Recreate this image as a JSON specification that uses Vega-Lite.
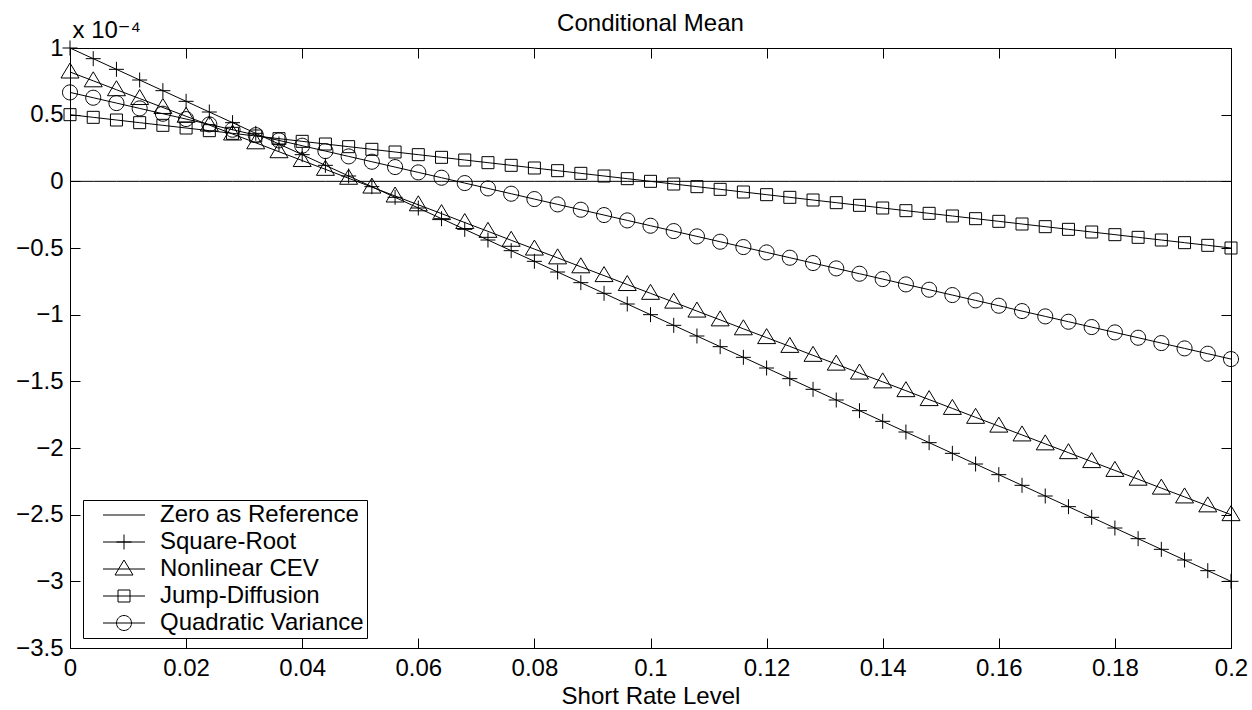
{
  "$schema": "https://vega.github.io/schema/vega-lite/v6.json",
  "width": 1161,
  "height": 600,
  "autosize": {"type": "none"},
  "padding": {"left": 70, "top": 48, "right": 21, "bottom": 62},
  "background": "white",
  "title": {"text": "Conditional Mean", "anchor": "middle", "frame": "group", "fontSize": 24, "fontWeight": "normal", "font": "Liberation Sans", "color": "black", "offset": -18},
  "config": {
    "view": {"stroke": "black", "strokeWidth": 1},
    "axis": {"grid": false, "domain": false, "tickColor": "black", "tickWidth": 1, "tickSize": -10, "labelFont": "Liberation Sans", "labelFontSize": 24, "labelColor": "black", "titleFont": "Liberation Sans", "titleFontSize": 24, "titleFontWeight": "normal", "titleColor": "black"}
  },
  "data": {"values": [
    {"x": 0, "Zero as Reference": 0, "Square-Root": 1, "Nonlinear CEV": 0.82, "Jump-Diffusion": 0.5, "Quadratic Variance": 0.667},
    {"x": 0.004, "Zero as Reference": 0, "Square-Root": 0.92, "Nonlinear CEV": 0.754, "Jump-Diffusion": 0.48, "Quadratic Variance": 0.627},
    {"x": 0.008, "Zero as Reference": 0, "Square-Root": 0.84, "Nonlinear CEV": 0.687, "Jump-Diffusion": 0.46, "Quadratic Variance": 0.587},
    {"x": 0.012, "Zero as Reference": 0, "Square-Root": 0.76, "Nonlinear CEV": 0.621, "Jump-Diffusion": 0.44, "Quadratic Variance": 0.547},
    {"x": 0.016, "Zero as Reference": 0, "Square-Root": 0.68, "Nonlinear CEV": 0.554, "Jump-Diffusion": 0.42, "Quadratic Variance": 0.507},
    {"x": 0.02, "Zero as Reference": 0, "Square-Root": 0.6, "Nonlinear CEV": 0.488, "Jump-Diffusion": 0.4, "Quadratic Variance": 0.467},
    {"x": 0.024, "Zero as Reference": 0, "Square-Root": 0.52, "Nonlinear CEV": 0.422, "Jump-Diffusion": 0.38, "Quadratic Variance": 0.427},
    {"x": 0.028, "Zero as Reference": 0, "Square-Root": 0.44, "Nonlinear CEV": 0.355, "Jump-Diffusion": 0.36, "Quadratic Variance": 0.387},
    {"x": 0.032, "Zero as Reference": 0, "Square-Root": 0.36, "Nonlinear CEV": 0.289, "Jump-Diffusion": 0.34, "Quadratic Variance": 0.347},
    {"x": 0.036, "Zero as Reference": 0, "Square-Root": 0.28, "Nonlinear CEV": 0.222, "Jump-Diffusion": 0.32, "Quadratic Variance": 0.307},
    {"x": 0.04, "Zero as Reference": 0, "Square-Root": 0.2, "Nonlinear CEV": 0.156, "Jump-Diffusion": 0.3, "Quadratic Variance": 0.267},
    {"x": 0.044, "Zero as Reference": 0, "Square-Root": 0.12, "Nonlinear CEV": 0.09, "Jump-Diffusion": 0.28, "Quadratic Variance": 0.227},
    {"x": 0.048, "Zero as Reference": 0, "Square-Root": 0.04, "Nonlinear CEV": 0.023, "Jump-Diffusion": 0.26, "Quadratic Variance": 0.187},
    {"x": 0.052, "Zero as Reference": 0, "Square-Root": -0.04, "Nonlinear CEV": -0.043, "Jump-Diffusion": 0.24, "Quadratic Variance": 0.147},
    {"x": 0.056, "Zero as Reference": 0, "Square-Root": -0.12, "Nonlinear CEV": -0.11, "Jump-Diffusion": 0.22, "Quadratic Variance": 0.107},
    {"x": 0.06, "Zero as Reference": 0, "Square-Root": -0.2, "Nonlinear CEV": -0.176, "Jump-Diffusion": 0.2, "Quadratic Variance": 0.067},
    {"x": 0.064, "Zero as Reference": 0, "Square-Root": -0.28, "Nonlinear CEV": -0.242, "Jump-Diffusion": 0.18, "Quadratic Variance": 0.027},
    {"x": 0.068, "Zero as Reference": 0, "Square-Root": -0.36, "Nonlinear CEV": -0.309, "Jump-Diffusion": 0.16, "Quadratic Variance": -0.013},
    {"x": 0.072, "Zero as Reference": 0, "Square-Root": -0.44, "Nonlinear CEV": -0.375, "Jump-Diffusion": 0.14, "Quadratic Variance": -0.053},
    {"x": 0.076, "Zero as Reference": 0, "Square-Root": -0.52, "Nonlinear CEV": -0.442, "Jump-Diffusion": 0.12, "Quadratic Variance": -0.093},
    {"x": 0.08, "Zero as Reference": 0, "Square-Root": -0.6, "Nonlinear CEV": -0.508, "Jump-Diffusion": 0.1, "Quadratic Variance": -0.133},
    {"x": 0.084, "Zero as Reference": 0, "Square-Root": -0.68, "Nonlinear CEV": -0.574, "Jump-Diffusion": 0.08, "Quadratic Variance": -0.173},
    {"x": 0.088, "Zero as Reference": 0, "Square-Root": -0.76, "Nonlinear CEV": -0.641, "Jump-Diffusion": 0.06, "Quadratic Variance": -0.213},
    {"x": 0.092, "Zero as Reference": 0, "Square-Root": -0.84, "Nonlinear CEV": -0.707, "Jump-Diffusion": 0.04, "Quadratic Variance": -0.253},
    {"x": 0.096, "Zero as Reference": 0, "Square-Root": -0.92, "Nonlinear CEV": -0.774, "Jump-Diffusion": 0.02, "Quadratic Variance": -0.293},
    {"x": 0.1, "Zero as Reference": 0, "Square-Root": -1, "Nonlinear CEV": -0.84, "Jump-Diffusion": 0, "Quadratic Variance": -0.333},
    {"x": 0.104, "Zero as Reference": 0, "Square-Root": -1.08, "Nonlinear CEV": -0.906, "Jump-Diffusion": -0.02, "Quadratic Variance": -0.373},
    {"x": 0.108, "Zero as Reference": 0, "Square-Root": -1.16, "Nonlinear CEV": -0.973, "Jump-Diffusion": -0.04, "Quadratic Variance": -0.413},
    {"x": 0.112, "Zero as Reference": 0, "Square-Root": -1.24, "Nonlinear CEV": -1.039, "Jump-Diffusion": -0.06, "Quadratic Variance": -0.453},
    {"x": 0.116, "Zero as Reference": 0, "Square-Root": -1.32, "Nonlinear CEV": -1.106, "Jump-Diffusion": -0.08, "Quadratic Variance": -0.493},
    {"x": 0.12, "Zero as Reference": 0, "Square-Root": -1.4, "Nonlinear CEV": -1.172, "Jump-Diffusion": -0.1, "Quadratic Variance": -0.533},
    {"x": 0.124, "Zero as Reference": 0, "Square-Root": -1.48, "Nonlinear CEV": -1.238, "Jump-Diffusion": -0.12, "Quadratic Variance": -0.573},
    {"x": 0.128, "Zero as Reference": 0, "Square-Root": -1.56, "Nonlinear CEV": -1.305, "Jump-Diffusion": -0.14, "Quadratic Variance": -0.613},
    {"x": 0.132, "Zero as Reference": 0, "Square-Root": -1.64, "Nonlinear CEV": -1.371, "Jump-Diffusion": -0.16, "Quadratic Variance": -0.653},
    {"x": 0.136, "Zero as Reference": 0, "Square-Root": -1.72, "Nonlinear CEV": -1.438, "Jump-Diffusion": -0.18, "Quadratic Variance": -0.693},
    {"x": 0.14, "Zero as Reference": 0, "Square-Root": -1.8, "Nonlinear CEV": -1.504, "Jump-Diffusion": -0.2, "Quadratic Variance": -0.733},
    {"x": 0.144, "Zero as Reference": 0, "Square-Root": -1.88, "Nonlinear CEV": -1.57, "Jump-Diffusion": -0.22, "Quadratic Variance": -0.773},
    {"x": 0.148, "Zero as Reference": 0, "Square-Root": -1.96, "Nonlinear CEV": -1.637, "Jump-Diffusion": -0.24, "Quadratic Variance": -0.813},
    {"x": 0.152, "Zero as Reference": 0, "Square-Root": -2.04, "Nonlinear CEV": -1.703, "Jump-Diffusion": -0.26, "Quadratic Variance": -0.853},
    {"x": 0.156, "Zero as Reference": 0, "Square-Root": -2.12, "Nonlinear CEV": -1.77, "Jump-Diffusion": -0.28, "Quadratic Variance": -0.893},
    {"x": 0.16, "Zero as Reference": 0, "Square-Root": -2.2, "Nonlinear CEV": -1.836, "Jump-Diffusion": -0.3, "Quadratic Variance": -0.933},
    {"x": 0.164, "Zero as Reference": 0, "Square-Root": -2.28, "Nonlinear CEV": -1.902, "Jump-Diffusion": -0.32, "Quadratic Variance": -0.973},
    {"x": 0.168, "Zero as Reference": 0, "Square-Root": -2.36, "Nonlinear CEV": -1.969, "Jump-Diffusion": -0.34, "Quadratic Variance": -1.013},
    {"x": 0.172, "Zero as Reference": 0, "Square-Root": -2.44, "Nonlinear CEV": -2.035, "Jump-Diffusion": -0.36, "Quadratic Variance": -1.053},
    {"x": 0.176, "Zero as Reference": 0, "Square-Root": -2.52, "Nonlinear CEV": -2.102, "Jump-Diffusion": -0.38, "Quadratic Variance": -1.093},
    {"x": 0.18, "Zero as Reference": 0, "Square-Root": -2.6, "Nonlinear CEV": -2.168, "Jump-Diffusion": -0.4, "Quadratic Variance": -1.133},
    {"x": 0.184, "Zero as Reference": 0, "Square-Root": -2.68, "Nonlinear CEV": -2.234, "Jump-Diffusion": -0.42, "Quadratic Variance": -1.173},
    {"x": 0.188, "Zero as Reference": 0, "Square-Root": -2.76, "Nonlinear CEV": -2.301, "Jump-Diffusion": -0.44, "Quadratic Variance": -1.213},
    {"x": 0.192, "Zero as Reference": 0, "Square-Root": -2.84, "Nonlinear CEV": -2.367, "Jump-Diffusion": -0.46, "Quadratic Variance": -1.253},
    {"x": 0.196, "Zero as Reference": 0, "Square-Root": -2.92, "Nonlinear CEV": -2.434, "Jump-Diffusion": -0.48, "Quadratic Variance": -1.293},
    {"x": 0.2, "Zero as Reference": 0, "Square-Root": -3, "Nonlinear CEV": -2.5, "Jump-Diffusion": -0.5, "Quadratic Variance": -1.333}
  ]},
  "transform": [
    {"fold": ["Zero as Reference", "Square-Root", "Nonlinear CEV", "Jump-Diffusion", "Quadratic Variance"], "as": ["series", "value"]}
  ],
  "layer": [
    {
      "mark": {"type": "line", "color": "black", "strokeWidth": 1, "clip": true},
      "encoding": {
        "x": {"field": "x", "type": "quantitative", "scale": {"domain": [0, 0.2], "nice": false, "zero": false},
          "axis": {"orient": "bottom", "values": [0, 0.02, 0.04, 0.06, 0.08, 0.1, 0.12, 0.14, 0.16, 0.18, 0.2], "format": "~g", "labelPadding": 18, "labelFlush": false, "title": "Short Rate Level", "titleY": 55, "titleBaseline": "alphabetic"}},
        "y": {"field": "value", "type": "quantitative", "scale": {"domain": [-3.5, 1], "nice": false, "zero": false},
          "axis": {"orient": "left", "values": [-3.5, -3, -2.5, -2, -1.5, -1, -0.5, 0, 0.5, 1], "format": "~g", "labelPadding": 17, "labelFlush": false, "title": "x 10⁻⁴", "titleAngle": 0, "titleAlign": "left", "titleBaseline": "alphabetic", "titleX": 2, "titleY": -11, "titleFont": "Liberation Sans, DejaVu Sans"}},
        "detail": {"field": "series", "type": "nominal"}
      }
    },
    {
      "transform": [{"filter": "datum.series !== 'Zero as Reference'"}],
      "mark": {"type": "point", "filled": false, "size": 4, "stroke": "black", "strokeWidth": 1, "opacity": 1},
      "encoding": {
        "x": {"field": "x", "type": "quantitative", "axis": null},
        "y": {"field": "value", "type": "quantitative", "axis": null},
        "shape": {"field": "series", "type": "nominal", "legend": null,
          "scale": {"domain": ["Square-Root", "Nonlinear CEV", "Jump-Diffusion", "Quadratic Variance"],
            "range": ["M-7.5,0H7.5M0,-7.5V7.5", "M0,-9L9,6L-9,6Z", "M-6,-6H6V6H-6Z", "M-7.5,0A7.5,7.5,0,1,1,7.5,0A7.5,7.5,0,1,1,-7.5,0Z"]}}
      }
    },
    {
      "mark": {"type": "point", "filled": false, "size": 4, "stroke": "black", "strokeWidth": 1, "opacity": 0},
      "encoding": {
        "x": {"field": "x", "type": "quantitative", "axis": {"orient": "top", "values": [0, 0.02, 0.04, 0.06, 0.08, 0.1, 0.12, 0.14, 0.16, 0.18, 0.2], "labels": false, "title": null}},
        "y": {"field": "value", "type": "quantitative", "axis": {"orient": "right", "values": [-3.5, -3, -2.5, -2, -1.5, -1, -0.5, 0, 0.5, 1], "labels": false, "title": null}},
        "shape": {"field": "series", "type": "nominal",
          "scale": {"domain": ["Zero as Reference", "Square-Root", "Nonlinear CEV", "Jump-Diffusion", "Quadratic Variance"],
            "range": ["M-21,0H21", "M-21,0H21M-7.5,0H7.5M0,-7.5V7.5", "M-21,0H21M0,-9L9,6L-9,6Z", "M-21,0H21M-6,-6H6V6H-6Z", "M-21,0H21M-7.5,0A7.5,7.5,0,1,1,7.5,0A7.5,7.5,0,1,1,-7.5,0Z"]},
          "legend": {"orient": "none", "legendX": 13, "legendY": 452, "title": null, "strokeColor": "black", "fillColor": "white", "padding": 3, "cornerRadius": 0,
            "labelFontSize": 24, "labelFont": "Liberation Sans", "labelColor": "black", "labelLimit": 400,
            "symbolSize": 4, "symbolStrokeColor": "black", "symbolStrokeWidth": 1, "symbolFillColor": "transparent", "symbolOpacity": 1,
            "symbolOffset": 26, "labelOffset": 24, "rowPadding": 3}}
      }
    }
  ],
  "resolve": {"scale": {"shape": "independent"}, "axis": {"x": "independent", "y": "independent"}, "legend": {"shape": "independent"}}
}
